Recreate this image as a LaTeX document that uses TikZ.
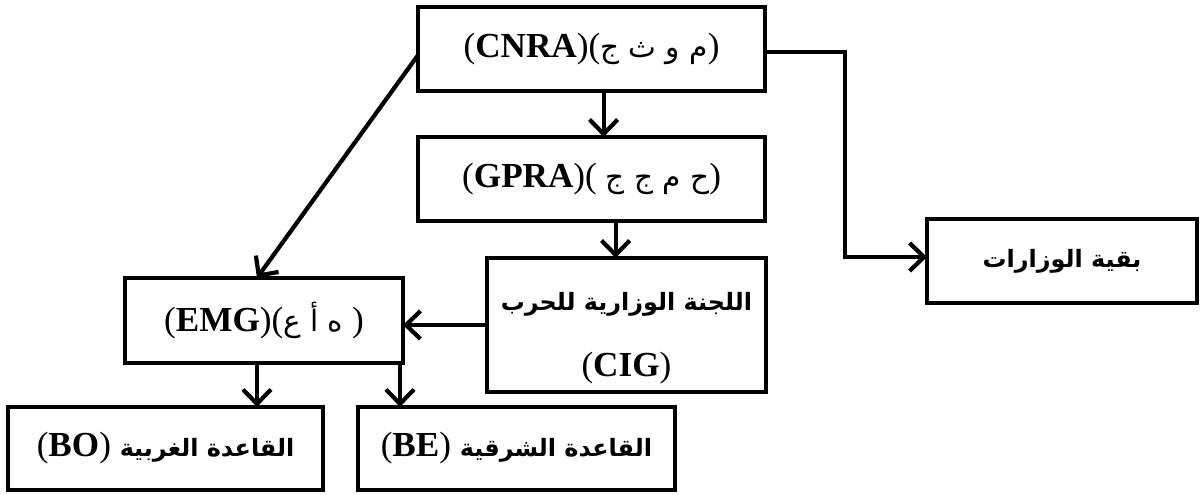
\documentclass[tikz,border=0pt]{standalone}
\usepackage{fontspec}
\setmainfont{Liberation Serif}
\newfontfamily\arabicfont[Script=Arabic]{DejaVu Sans}
\TeXXeTstate=1
\usetikzlibrary{arrows.meta,calc}

%% Arabic run inside a left-to-right line
\newcommand{\artxt}[1]{{\arabicfont\beginR #1\endR}}
%% Arabic words, a little smaller than the Latin text
\newcommand{\arword}[1]{{\fontsize{17}{20}\selectfont\arabicfont\bfseries\beginR #1\endR}}

\tikzset{
  orgbox/.style={draw, line width=3pt, rectangle, inner sep=0pt, outer sep=0pt,
    minimum height=2.1cm, font=\fontsize{25}{30}\selectfont, align=center},
  orgarrow/.style={line width=3pt, -{Straight Barb[length=0.36cm,width=0.7cm,line width=3pt]}},
}

\begin{document}
\begin{tikzpicture}

  %% Fix the page to the reference size.
  \useasboundingbox (0,0) rectangle (30.025,-12.35);


  %% Top of the chart.
  \node [orgbox, minimum width=8.675cm] (cnra) at (14.79,-1.225)
  {(\textbf{CNRA})({\fontsize{21}{26}\selectfont\artxt{م\ و\ ث\ ج}})};
  \node [orgbox, minimum width=8.675cm] (gpra) at (14.79,-4.475)
  {(\textbf{GPRA})(\ {\fontsize{21}{26}\selectfont\artxt{ح\ م\ ج\ ج}})};
  \node [orgbox, minimum width=6.975cm, minimum height=3.35cm] (cig) at (15.66,-8.125)
  {\rule{0pt}{1.1cm}\arword{اللجنة الوزارية للحرب}\\[0.6cm](\textbf{CIG})};
  \node [orgbox, minimum width=6.75cm] (minist) at (26.55,-6.525)
  {\arword{بقية الوزارات}};


  %% Staff and the two bases.
  \node [orgbox, minimum width=6.95cm, minimum height=2.125cm] (emg) at (6.6,-8.01)
  {(\textbf{EMG})({\fontsize{21}{26}\selectfont\artxt{ه\ أ\ ع}}\ )};
  \node [orgbox, minimum width=7.875cm, minimum height=2.075cm] (bo) at (4.14,-11.21)
  {(\textbf{BO}) \arword{القاعدة الغربية}};
  \node [orgbox, minimum width=7.925cm, minimum height=2.075cm] (be) at (12.91,-11.21)
  {(\textbf{BE}) \arword{القاعدة الشرقية}};


  %% Arrows.
  \draw [orgarrow] ([xshift=0.3cm]cnra.south) -- ([xshift=0.3cm]cnra.south |- gpra.north);
  \draw [orgarrow] ([xshift=0.6cm]gpra.south) -- ([xshift=0.6cm]gpra.south |- cig.north);
  \draw [orgarrow] (cig.west) -- (cig.west -| emg.east);
  \draw [orgarrow] ([yshift=-0.15cm]cnra.west) -- ([xshift=-0.175cm]emg.north);
  \draw [orgarrow] ([yshift=-0.075cm]cnra.east) -- ++(2cm,0) |- ([yshift=0.1cm]minist.west);
  \draw [orgarrow] ([xshift=-0.175cm]emg.south) -- ([xshift=-0.175cm]emg.south |- bo.north);
  \draw [orgarrow] ([xshift=-0.075cm]emg.south east) -- ([xshift=-0.075cm]emg.south east |- be.north);

\end{tikzpicture}
\end{document}
